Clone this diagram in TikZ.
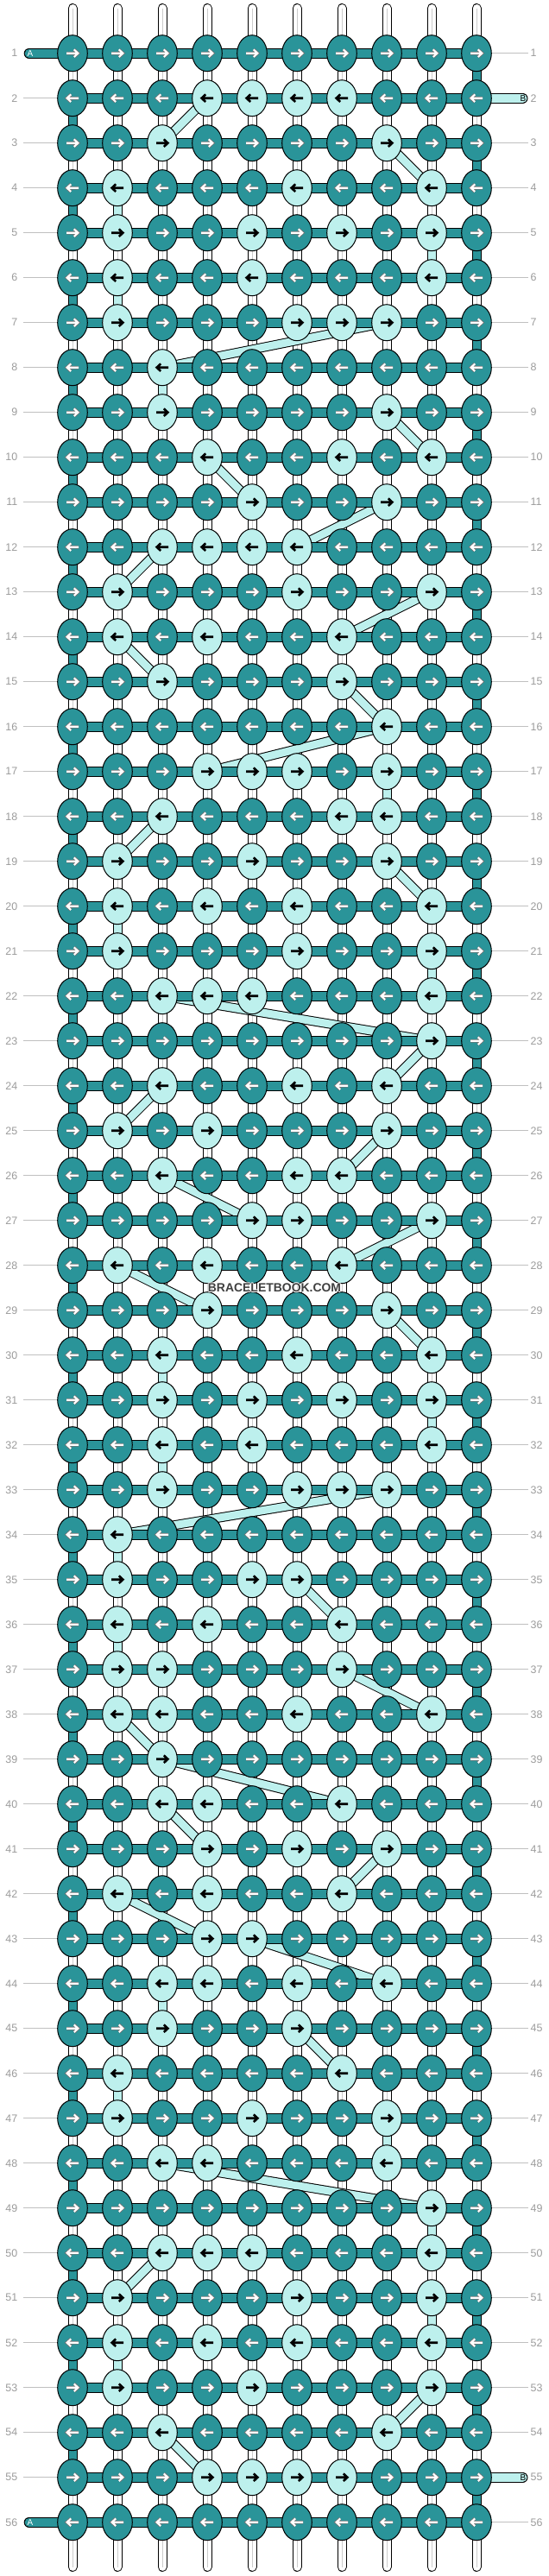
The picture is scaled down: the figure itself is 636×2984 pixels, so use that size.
\documentclass[tikz,border=0pt]{standalone}
\usepackage{fontspec}
\setmainfont{Liberation Sans}
\usetikzlibrary{shapes.geometric}
\definecolor{teal1}{HTML}{2A9499}
\definecolor{lite}{HTML}{BDF0ED}
\definecolor{lblgray}{HTML}{9C9C9C}
\definecolor{linegray}{HTML}{C0C0C0}
\pgfdeclarelayer{paper}
\pgfdeclarelayer{strands}
\pgfdeclarelayer{bands}
\pgfdeclarelayer{bars}
\pgfsetlayers{paper,strands,bands,bars,main}
\newcommand\knotarrow[3]{\draw[#1, shift={(#2)}, xscale=#3] (-7,0) -- (6.2,0) (1.8,-4.3) -- (6.4,0) -- (1.8,4.3);}
\begin{document}
\begin{tikzpicture}[x=1bp,y=-1bp,
  knot/.style={ellipse, draw=black, line width=1bp, minimum width=34.6bp, minimum height=42bp, inner sep=0pt},
  darkknot/.style={knot, fill=teal1},
  liteknot/.style={knot, fill=lite},
  arrw/.style={line cap=butt, line join=miter},
  rowlbl/.style={font=\fontsize{12.5}{13}\selectfont, text=lblgray, inner sep=0pt},
  grayline/.style={draw=linegray, line width=1bp},
  strandout/.style={draw=black, line width=11bp},
  strandin/.style={draw=white, line width=9bp},
  strandmid/.style={draw=black!20, line width=0.8bp},
  tealin/.style={draw=teal1, line width=9bp},
  litein/.style={draw=lite, line width=9bp},
  barout/.style={draw=black, line width=12bp},
  barin/.style={draw=teal1, line width=10bp},
  endlbl/.style={font=\fontsize{10}{10}\selectfont, inner sep=0pt},
  wmk/.style={font=\bfseries\fontsize{14}{14}\selectfont, inner sep=0pt}
]
\begin{pgfonlayer}{paper}
\fill[white] (0,0) rectangle (636,2984);
\end{pgfonlayer}
\useasboundingbox (0,0) rectangle (636,2984);
% light knots
\foreach \rr/\cc in {2/4,2/5,2/6,2/7,
3/3,3/8,
4/2,4/6,4/9,
5/2,5/5,5/7,5/9,
6/2,6/5,6/9,
7/2,7/6,7/7,7/8,
8/3,
9/3,9/8,
10/4,10/7,10/9,
11/5,11/8,
12/3,12/4,12/5,12/6,
13/2,13/6,13/9,
14/2,14/4,14/7,
15/3,15/7,
16/8,
17/4,17/5,17/6,17/8,
18/3,18/7,18/8,
19/2,19/5,19/8,
20/2,20/4,20/6,20/9,
21/2,21/6,21/9,
22/3,22/4,22/5,22/9,
23/9,
24/3,24/6,24/8,
25/2,25/4,25/8,
26/3,26/6,26/7,
27/5,27/6,27/9,
28/2,28/4,28/7,
29/4,29/8,
30/3,30/6,30/9,
31/3,31/5,31/7,31/9,
32/3,32/5,32/9,
33/3,33/6,33/7,33/8,
34/2,
35/2,35/5,35/6,
36/2,36/4,36/7,
37/2,37/3,37/7,
38/2,38/3,38/6,38/9,
39/3,
40/3,40/4,40/7,
41/4,41/6,41/8,
42/2,42/4,42/7,
43/4,43/5,
44/3,44/4,44/6,44/8,
45/3,45/6,
46/2,46/7,
47/2,47/5,47/8,
48/3,48/4,48/8,
49/9,
50/3,50/4,50/5,50/9,
51/2,51/6,51/9,
52/2,52/4,52/6,52/9,
53/2,53/5,53/9,
54/3,54/8,
55/4,55/5,55/6,55/7}{\expandafter\gdef\csname lt-\rr-\cc\endcsname{}}
% knots
\foreach \rr in {1,...,56}{
  \pgfmathsetmacro\yy{61.7+52*(\rr-1)}
  \ifodd\rr \def\dir{1}\else\def\dir{-1}\fi
  \foreach \cc in {1,...,10}{
    \pgfmathsetmacro\xx{84+52*(\cc-1)}
    \ifcsname lt-\rr-\cc\endcsname
      \node[liteknot] (k\rr-\cc) at (\xx,\yy) {};
      \knotarrow{arrw, draw=black, line width=2.6bp}{\xx,\yy}{\dir}
    \else
      \node[darkknot] (k\rr-\cc) at (\xx,\yy) {};
      \knotarrow{arrw, draw=black!55, line width=3.7bp}{\xx,\yy}{\dir}
      \knotarrow{arrw, draw=white, line width=2.1bp}{\xx,\yy}{\dir}
    \fi
  }
  % row labels
  \node[rowlbl, anchor=east] (L\rr) at (20.5,\yy) {\rr};
  \node[rowlbl, anchor=west] (R\rr) at (614.5,\yy) {\rr};
  \coordinate (gl\rr) at (26.5,\yy);
  \coordinate (gr\rr) at (611.5,\yy);
}
\begin{pgfonlayer}{strands}
  \foreach \rr in {2,...,55}{\draw[grayline] (gl\rr) -- (k\rr-1.west);}
  \foreach \rr in {1,3,4,...,54,56}{\draw[grayline] (k\rr-10.east) -- (gr\rr);}
  \foreach \cc in {1,...,10}{
    \pgfmathsetmacro\xx{84+52*(\cc-1)}
    \coordinate (top\cc) at (\xx,9.5);
    \coordinate (bot\cc) at (\xx,2973.5);
    \draw[strandout, line cap=round] (top\cc) -- (k1-\cc.center);
    \draw[strandin, line cap=round] (top\cc) -- (k1-\cc.center);
    \draw[strandmid] (top\cc) -- (k1-\cc.center);
    \draw[strandout, line cap=round] (k56-\cc.center) -- (bot\cc);
    \draw[strandin, line cap=round] (k56-\cc.center) -- (bot\cc);
    \draw[strandmid] (k56-\cc.center) -- (bot\cc);
  }
  \foreach \rr in {1,...,55}{
    \pgfmathtruncatemacro\rn{\rr+1}
    \foreach \cc in {1,...,10}{
      \def\isteal{0}
      \ifodd\rr \ifnum\cc=10 \def\isteal{1}\fi\else\ifnum\cc=1 \def\isteal{1}\fi\fi
      \draw[strandout] (k\rr-\cc.center) -- (k\rn-\cc.center);
      \ifnum\isteal=1
        \draw[tealin] (k\rr-\cc.center) -- (k\rn-\cc.center);
      \else
        \draw[strandin] (k\rr-\cc.center) -- (k\rn-\cc.center);
        \draw[strandmid] (k\rr-\cc.center) -- (k\rn-\cc.center);
      \fi
    }
  }
\end{pgfonlayer}
\begin{pgfonlayer}{bands}
  \foreach \rr/\ca/\cb in {2/4/3,3/8/9,4/2/2,5/9/9,6/2/2,7/8/3,8/3/3,9/8/9,10/4/5,11/8/6,12/3/2,13/9/7,14/2/3,15/7/8,16/8/4,17/8/8,18/3/2,19/8/9,20/2/2,21/9/9,22/3/9,23/9/8,24/3/2,25/8/7,26/3/5,27/9/7,28/2/4,29/8/9,30/3/3,31/9/9,32/3/3,33/8/2,34/2/2,35/6/7,36/2/2,37/7/9,38/2/3,39/3/7,40/3/4,41/8/7,42/2/4,43/5/8,44/3/3,45/6/7,46/2/2,47/8/8,48/3/9,49/9/9,50/3/2,51/9/9,52/2/2,53/9/8,54/3/4}{
    \pgfmathtruncatemacro\rn{\rr+1}
    \draw[strandout] (k\rr-\ca.center) -- (k\rn-\cb.center);
    \draw[litein] (k\rr-\ca.center) -- (k\rn-\cb.center);
  }
\end{pgfonlayer}
\begin{pgfonlayer}{bars}
  \foreach \rr in {1,...,56}{
    \draw[barout] (k\rr-1.center) -- (k\rr-10.center);
    \draw[barin] (k\rr-1.center) -- (k\rr-10.center);
  }
  \coordinate (A1) at (33.7,61.7);
  \coordinate (A56) at (33.7,2921.7);
  \coordinate (B2) at (605.5,113.7);
  \coordinate (B55) at (605.5,2869.7);
  \draw[barout, line cap=round] (A1) -- (k1-1.center);
  \draw[barin, line cap=round] (A1) -- (k1-1.center);
  \draw[barout, line cap=round] (A56) -- (k56-1.center);
  \draw[barin, line cap=round] (A56) -- (k56-1.center);
  \draw[barout, line cap=round] (k2-10.center) -- (B2);
  \draw[barin, draw=lite, line cap=round] (k2-10.center) -- (B2);
  \draw[barout, line cap=round] (k55-10.center) -- (B55);
  \draw[barin, draw=lite, line cap=round] (k55-10.center) -- (B55);
\end{pgfonlayer}
\node[endlbl, text=white] (Atxt1) at (35,61.7) {A};
\node[endlbl, text=white] (Atxt56) at (35,2921.7) {A};
\node[endlbl, text=black] (Btxt2) at (606,113.7) {B};
\node[endlbl, text=black] (Btxt55) at (606,2869.7) {B};
% watermark
\node[wmk, text=white, xshift=-1bp] (wmh1) at (318,1491.7) {BRACELETBOOK.COM};
\node[wmk, text=white, xshift=1bp] (wmh2) at (318,1491.7) {BRACELETBOOK.COM};
\node[wmk, text=white, yshift=-1bp] (wmh3) at (318,1491.7) {BRACELETBOOK.COM};
\node[wmk, text=white, yshift=1bp] (wmh4) at (318,1491.7) {BRACELETBOOK.COM};
\node[wmk, text=black!75] (wm) at (318,1491.7) {BRACELETBOOK.COM};
\end{tikzpicture}
\end{document}
